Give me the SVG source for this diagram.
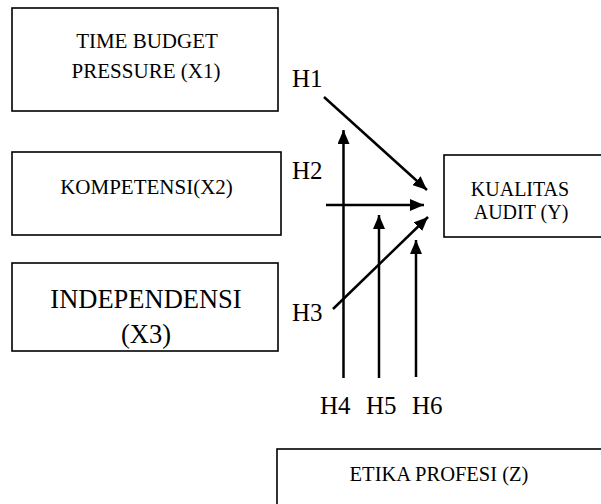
<svg xmlns="http://www.w3.org/2000/svg" width="601" height="504" viewBox="0 0 601 504">
<style>
.box{fill:#fff;stroke:#000;stroke-width:1.6}
.t{font-family:"Liberation Serif","Times New Roman",serif;fill:#000;text-anchor:middle}
.h{font-family:"Liberation Serif","Times New Roman",serif;fill:#000;font-size:25px}
.c{stroke:#000;stroke-width:2.5;fill:none;marker-end:url(#ah)}
</style>
<defs>
<marker id="ah" markerUnits="userSpaceOnUse" markerWidth="14" markerHeight="12" viewBox="0 0 14 12" refX="14" refY="6" orient="auto">
<path d="M0,0 L14,6 L0,12 Z" fill="#000"/>
</marker>
</defs>
<rect width="601" height="504" fill="#fff"/>
<g id="x1">
<rect class="box" x="12" y="8" width="266" height="103"/>
<text class="t" x="147" y="48" font-size="21">TIME BUDGET</text>
<text class="t" x="146" y="78" font-size="21">PRESSURE (X1)</text>
</g>
<g id="x2">
<rect class="box" x="12" y="152" width="269" height="83"/>
<text class="t" x="146.5" y="194" font-size="21">KOMPETENSI(X2)</text>
</g>
<g id="x3">
<rect class="box" x="12" y="263" width="266" height="88"/>
<text class="t" x="146" y="308" font-size="26.5">INDEPENDENSI</text>
<text class="t" x="146" y="343" font-size="26.5">(X3)</text>
</g>
<g id="y">
<rect class="box" x="444" y="155" width="170" height="82"/>
<text class="t" x="520" y="196" font-size="20">KUALITAS</text>
<text class="t" x="521" y="219" font-size="20">AUDIT (Y)</text>
</g>
<g id="z">
<rect class="box" x="277" y="449" width="340" height="70"/>
<text class="t" x="439" y="481" font-size="20.5">ETIKA PROFESI (Z)</text>
</g>
<g id="connectors">
<line class="c" x1="324" y1="97" x2="427" y2="190"/>
<line class="c" x1="326" y1="205" x2="424" y2="205"/>
<line class="c" x1="333" y1="309" x2="428" y2="217"/>
<line class="c" x1="343.5" y1="378" x2="343.5" y2="130"/>
<line class="c" x1="379" y1="378" x2="379" y2="215"/>
<line class="c" x1="416" y1="377" x2="416" y2="240"/>
</g>
<g id="labels">
<text class="h" x="292" y="87">H1</text>
<text class="h" x="292" y="179">H2</text>
<text class="h" x="292" y="321">H3</text>
<text class="h" x="320" y="414">H4</text>
<text class="h" x="366" y="414">H5</text>
<text class="h" x="412" y="414">H6</text>
</g>
</svg>
